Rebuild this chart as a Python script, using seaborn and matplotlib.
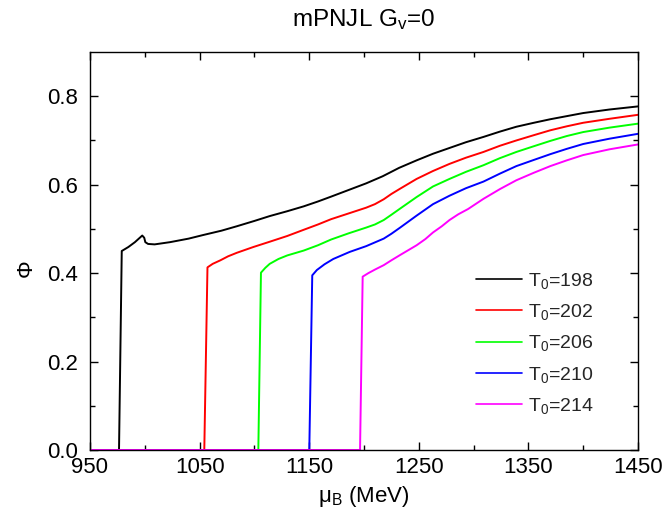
import numpy as np
import pandas as pd
import matplotlib
matplotlib.use("Agg")
import matplotlib.pyplot as plt
import seaborn as sns

sns.set_theme(style="ticks")
plt.rcParams['font.family'] = ['Liberation Sans', 'DejaVu Sans']
plt.rcParams['mathtext.fontset'] = 'custom'
plt.rcParams['mathtext.rm'] = 'Liberation Sans'
plt.rcParams['mathtext.it'] = 'Liberation Sans'

labels = ["T$_0$=198", "T$_0$=202", "T$_0$=206", "T$_0$=210", "T$_0$=214"]
colors = ["#000000", "#ff0000", "#00ff00", "#0000ff", "#ff00ff"]
xticks_major = [950, 1050, 1150, 1250, 1350, 1450]
xticks_minor = [1000, 1100, 1200, 1300, 1400]
yticks_major = [0.0, 0.2, 0.4, 0.6, 0.8]
yticks_minor = [0.1, 0.3, 0.5, 0.7]

mu_198 = [950, 976.5, 979, 985, 991, 997.7, 999.5, 1000.5, 1003, 1009, 1023, 1040, 1053, 1070, 1084, 1100,
          1114, 1130, 1145, 1158, 1170, 1186, 1202, 1217, 1232, 1248, 1263, 1278, 1293, 1309, 1324, 1339,
          1355, 1370, 1385, 1400, 1424, 1450]
phi_198 = [0, 0, 0.450, 0.459, 0.470, 0.485, 0.480, 0.470, 0.466, 0.465, 0.470, 0.478, 0.486, 0.496, 0.506,
           0.518, 0.529, 0.540, 0.551, 0.562, 0.573, 0.588, 0.603, 0.619, 0.638, 0.655, 0.670, 0.683, 0.696,
           0.708, 0.720, 0.731, 0.740, 0.748, 0.755, 0.762, 0.770, 0.777]

mu_202 = [950, 1054.3, 1057.2, 1062, 1069, 1076, 1084, 1099, 1114, 1130, 1145, 1158, 1170, 1186, 1202, 1210,
          1218, 1225, 1233, 1248, 1263, 1278, 1293, 1309, 1324, 1339, 1355, 1370, 1385, 1400, 1424, 1450]
phi_202 = [0, 0, 0.413, 0.421, 0.429, 0.438, 0.446, 0.459, 0.471, 0.484, 0.498, 0.510, 0.522, 0.535, 0.548,
           0.556, 0.567, 0.579, 0.591, 0.613, 0.631, 0.647, 0.661, 0.674, 0.688, 0.700, 0.712, 0.723, 0.732,
           0.740, 0.749, 0.758]

mu_206 = [950, 1103.6, 1106, 1110, 1114, 1122, 1130, 1145, 1158, 1170, 1186, 1202, 1210, 1218, 1225, 1233,
          1248, 1263, 1278, 1293, 1309, 1324, 1339, 1355, 1370, 1385, 1400, 1424, 1450]
phi_206 = [0, 0, 0.401, 0.412, 0.421, 0.432, 0.440, 0.451, 0.463, 0.476, 0.490, 0.503, 0.510, 0.520, 0.532,
           0.546, 0.572, 0.596, 0.613, 0.629, 0.644, 0.660, 0.674, 0.687, 0.699, 0.710, 0.719, 0.729, 0.738]

mu_210 = [950, 1150.1, 1152.8, 1157, 1164, 1172, 1187, 1202, 1218, 1225, 1233, 1248, 1263, 1278, 1293, 1309,
          1324, 1339, 1355, 1370, 1385, 1400, 1424, 1450]
phi_210 = [0, 0, 0.395, 0.407, 0.420, 0.432, 0.448, 0.461, 0.478, 0.489, 0.503, 0.530, 0.556, 0.575, 0.592,
           0.607, 0.625, 0.642, 0.656, 0.669, 0.681, 0.692, 0.704, 0.715]

mu_214 = [950, 1196.4, 1198.8, 1204, 1210, 1218, 1225, 1233, 1248, 1256, 1263, 1271, 1278, 1286, 1295, 1309,
          1324, 1339, 1355, 1370, 1385, 1400, 1424, 1450]
phi_214 = [0, 0, 0.392, 0.400, 0.408, 0.418, 0.429, 0.441, 0.463, 0.477, 0.492, 0.506, 0.520, 0.533, 0.545,
           0.568, 0.590, 0.610, 0.627, 0.642, 0.655, 0.667, 0.680, 0.691]

series = [(mu_198, phi_198), (mu_202, phi_202), (mu_206, phi_206), (mu_210, phi_210), (mu_214, phi_214)]
frames = []
for lab, (m, p) in zip(labels, series):
    frames.append(pd.DataFrame({"mu": m, "phi": p, "T0": lab}))
df = pd.concat(frames, ignore_index=True)

fig = plt.figure(figsize=(6.63, 5.13), dpi=100)
ax = fig.add_axes([0.1357, 0.1228, 0.8266, 0.7758])

sns.lineplot(data=df, x="mu", y="phi", hue="T0", palette=colors, hue_order=labels,
             estimator=None, sort=False, linewidth=1.4, ax=ax)

ax.set_xlim(950, 1450)
ax.set_ylim(0, 0.9)
ax.set_xticks(xticks_major)
ax.set_xticks(xticks_minor, minor=True)
ax.set_yticks(yticks_major)
ax.set_yticks(yticks_minor, minor=True)
ax.set_yticklabels([f"{v:.1f}" for v in yticks_major])
ax.tick_params(which="both", direction="in", top=True, right=True, labelsize=16, width=1.0,
               color="black", labelcolor="black")
ax.tick_params(which="major", length=6)
ax.tick_params(which="minor", length=3.5)
ax.tick_params(axis="y", which="major", pad=8.5)
ax.tick_params(axis="x", which="major", pad=5)
for s in ax.spines.values():
    s.set_linewidth(1.0)
    s.set_color("black")

ax.set_xlabel("μ$_B$ (MeV)", fontsize=16, labelpad=4, color="black")
ax.set_ylabel("Φ", fontsize=16, color="black")
ax.yaxis.set_label_coords(-0.098, 0.457)
ax.set_title("mPNJL G$_v$=0", fontsize=17.5, pad=19, color="black")

leg = ax.legend(loc="upper left", bbox_to_anchor=(0.704, 0.45), frameon=False, fontsize=14,
                borderpad=0, borderaxespad=0,
                handlelength=2.4, handletextpad=0.3, labelspacing=0.58)
for line in leg.get_lines():
    line.set_linewidth(1.2)

fig.savefig("out.png", dpi=100)
